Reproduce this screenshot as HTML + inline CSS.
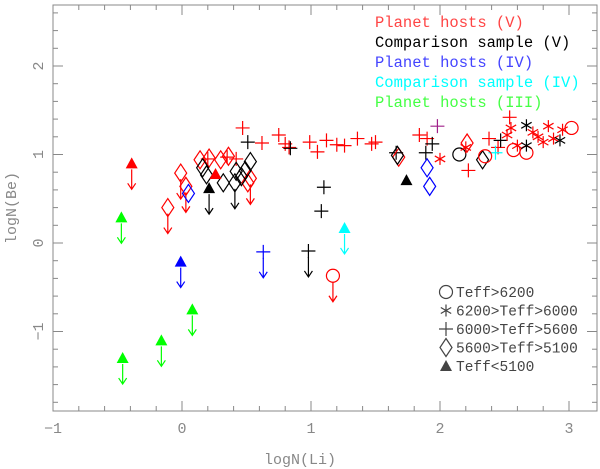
<!DOCTYPE html>
<html><head><meta charset="utf-8"><style>
html,body{margin:0;padding:0;background:#fff;}
svg{display:block;font-family:"Liberation Mono","DejaVu Sans Mono",monospace;}
</style></head><body>
<svg id="chart" width="600" height="469" viewBox="0 0 600 469">
<g id="axes"></g><g id="marks"></g><g id="legend"></g>
</svg>
<script>
// Data arrays: [logN(Li), logN(Be), upperLimit(1/0)]
const xTicks=[-1,0,1,2,3];
const yTicks=[-1,0,1,2];
const greenTri=[[-0.47,0.29,1],[-0.46,-1.3,1],[-0.16,-1.1,1],[0.08,-0.75,1]];
const redTri=[[-0.39,0.9,1],[0.26,0.78,0]];
const blueTri=[[-0.01,-0.21,1]];
const blackTri=[[0.21,0.62,1],[1.74,0.71,0]];
const cyanTri=[[1.26,0.17,1]];
const blueCross=[[0.63,-0.1,1]];
const redDiamond=[[-0.01,0.79,1],[-0.11,0.4,1],[0.03,0.64,1],[0.14,0.94,0],[0.21,0.96,0],[0.3,0.94,0],[0.36,0.98,0],[0.53,0.73,1],[0.51,0.68,0],[2.21,1.13,0],[1.68,0.97,0]];
const blueDiamond=[[0.05,0.56,0],[1.9,0.85,0],[1.92,0.64,0]];
const blackDiamond=[[0.19,0.77,0],[0.16,0.85,0],[0.32,0.68,0],[0.42,0.81,0],[0.46,0.75,0],[0.49,0.82,0],[0.53,0.92,0],[0.41,0.68,1],[1.67,0.99,0],[2.33,0.94,0]];
const redCross=[[0.47,1.3,0],[0.62,1.13,0],[0.75,1.22,0],[0.8,1.12,0],[0.83,1.08,0],[0.99,1.14,0],[1.05,1.03,0],[1.12,1.16,0],[1.2,1.11,0],[1.26,1.1,0],[1.36,1.18,0],[1.47,1.12,0],[1.5,1.14,0],[1.84,1.22,0],[1.9,1.18,0],[2.22,0.82,0],[2.38,1.18,0],[2.45,1.08,0],[2.54,1.42,0],[0.2,0.95,0],[0.35,0.97,0],[0.42,0.95,0]];
const blackCross=[[0.51,1.14,0],[0.84,1.07,0],[1.1,0.63,0],[1.08,0.36,0],[0.98,-0.09,1],[1.66,1.02,0],[1.89,1.02,0],[1.94,1.12,0],[2.47,1.16,0]];
const purpleCross=[[1.98,1.32,0]];
const cyanCross=[[2.43,1.02,0]];
const redCircle=[[1.17,-0.37,1],[2.35,0.98,0],[2.57,1.05,0],[2.67,1.02,0],[3.02,1.3,0]];
const blackCircle=[[2.15,1.0,0]];
const redStar=[[2.0,0.95,0],[2.52,1.22,0],[2.6,1.1,0],[2.72,1.25,0],[2.76,1.2,0],[2.8,1.14,0],[2.84,1.32,0],[2.88,1.18,0],[2.2,1.08,0],[2.55,1.3,0],[2.95,1.28,0]];
const blackStar=[[2.67,1.33,0],[2.67,1.1,0],[2.93,1.16,0]];

const X0=53,X1=597,Y0=5,Y1=411;
function sx(v){return 182+v*129;}
function sy(v){return 243-v*88.5;}
const NS="http://www.w3.org/2000/svg";
function mk(tag,attrs,parent){const e=document.createElementNS(NS,tag);for(const k in attrs)e.setAttribute(k,attrs[k]);parent.appendChild(e);return e;}
const axes=document.getElementById('axes'),marks=document.getElementById('marks'),legend=document.getElementById('legend');
const G="#888";
const frame=mk('rect',{x:X0,y:Y0,width:X1-X0,height:Y1-Y0,fill:'none',stroke:G,'stroke-width':1},axes);


// minor ticks
for(let v=-1;v<=3.2;v+=0.2){const p=sx(v);if(p>X1)break;const big=Math.abs(v-Math.round(v))<1e-6;const L=big?10:5;
 mk('line',{x1:p,y1:Y1,x2:p,y2:Y1-L,stroke:G},axes);mk('line',{x1:p,y1:Y0,x2:p,y2:Y0+L,stroke:G},axes);}
for(let v=-1.8;v<=2.6;v+=0.2){const p=sy(v);if(p<Y0||p>Y1)continue;const big=Math.abs(v-Math.round(v))<1e-6;const L=big?10:5;
 mk('line',{x1:X0,y1:p,x2:X0+L,y2:p,stroke:G},axes);mk('line',{x1:X1,y1:p,x2:X1-L,y2:p,stroke:G},axes);}
xTicks.forEach(v=>{const t=mk('text',{x:sx(v),y:433,'text-anchor':'middle',fill:G,'font-size':15},axes);t.textContent=v<0?'\u2212'+(-v):v;
 
 });
yTicks.forEach(v=>{const t=mk('text',{x:0,y:0,'text-anchor':'middle',fill:G,'font-size':15,transform:`translate(43,${sy(v)}) rotate(-90)`},axes);t.textContent=v<0?'\u2212'+(-v):v;
 
 });
const xt=mk('text',{x:300,y:464,'text-anchor':'middle',fill:G,'font-size':15},axes);xt.textContent='logN(Li)';


const yt=mk('text',{x:0,y:0,'text-anchor':'middle',fill:G,'font-size':15,transform:'translate(16,208) rotate(-90)'},axes);yt.textContent='logN(Be)';



function marker(type,px,py,c,parent){
 const g=mk('g',{},parent);
 if(type==='tri')mk('polygon',{points:`${px-6},${py+5} ${px+6},${py+5} ${px},${py-6}`,fill:c},g);
 else if(type==='diamond')mk('polygon',{points:`${px},${py-9} ${px+6},${py} ${px},${py+9} ${px-6},${py}`,fill:'none',stroke:c,'stroke-width':1.2},g);
 else if(type==='circle')mk('circle',{cx:px,cy:py,r:6.5,fill:'none',stroke:c,'stroke-width':1.2},g);
 else if(type==='cross'){mk('path',{d:`M${px-7} ${py}H${px+7}M${px} ${py-7}V${py+7}`,stroke:c,'stroke-width':1.2},g);}
 else if(type==='star'){let d='';for(let i=0;i<3;i++){const a=Math.PI/2+i*Math.PI/3;const dx=6*Math.cos(a),dy=6*Math.sin(a);d+=`M${px-dx} ${py-dy}L${px+dx} ${py+dy}`;}mk('path',{d,stroke:c,'stroke-width':1.2},g);}
 return g;
}
function series(arr,type,c,name){
 arr.forEach(d=>{const px=sx(d[0]),py=sy(d[1]);const g=marker(type,px,py,c,marks);
  
  
  if(d[2]){mk('path',{d:`M${px} ${py+6}V${py+26}M${px-4} ${py+20}L${px} ${py+26}L${px+4} ${py+20}`,stroke:c,fill:'none','stroke-width':1.2},g);}
 });
}
series(redCross,'cross','#f00','planet-host-v-point');
series(blackCross,'cross','#000','comparison-v-point');
series(purpleCross,'cross','#a0208a','planet-host-iv-point');
series(cyanCross,'cross','#0ff','comparison-iv-point');
series(blueCross,'cross','#00f','planet-host-iv-point');
series(redDiamond,'diamond','#f00','planet-host-v-point');
series(blackDiamond,'diamond','#000','comparison-v-point');
series(blueDiamond,'diamond','#00f','planet-host-iv-point');
series(redCircle,'circle','#f00','planet-host-v-point');
series(blackCircle,'circle','#000','comparison-v-point');
series(redStar,'star','#f00','planet-host-v-point');
series(blackStar,'star','#000','comparison-v-point');
series(greenTri,'tri','#0f0','planet-host-iii-point');
series(redTri,'tri','#f00','planet-host-v-point');
series(blueTri,'tri','#00f','planet-host-iv-point');
series(blackTri,'tri','#000','comparison-v-point');
series(cyanTri,'tri','#0ff','comparison-iv-point');

const legColors=[['Planet hosts (V)','#f44'],['Comparison sample (V)','#000'],['Planet hosts (IV)','#44f'],['Comparison sample (IV)','#0ff'],['Planet hosts (III)','#4f4']];
legColors.forEach((l,i)=>{const t=mk('text',{x:375,y:27+i*20,fill:l[1],'font-size':15.5},legend);t.textContent=l[0];
 
 });
const symLeg=[['circle','Teff>6200'],['star','6200>Teff>6000'],['cross','6000>Teff>5600'],['diamond','5600>Teff>5100'],['tri','Teff<5100']];
symLeg.forEach((s,i)=>{const y=292+i*18.5;const g=marker(s[0],446,y,'#444',legend);
 
 
 const t=mk('text',{x:456,y:y+5,fill:'#444','font-size':14.5},legend);t.textContent=s[1];
 
 });
</script>
</body></html>
